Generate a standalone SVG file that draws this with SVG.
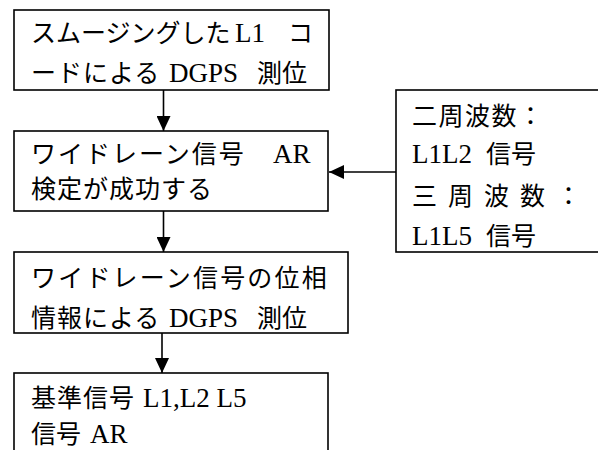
<svg xmlns="http://www.w3.org/2000/svg" width="598" height="450" viewBox="0 0 598 450">
<style>
.box{fill:#fff;stroke:#000;stroke-width:1.6}
.t{font-family:"Noto Sans CJK JP","Noto Sans",sans-serif;font-size:25px;fill:#000}
.l{font-family:"Liberation Serif","Noto Sans CJK JP",serif;font-size:27px}
.c{stroke:#000;stroke-width:1.6;fill:none}
</style>
<defs>
<marker id="ah" markerWidth="15" markerHeight="14" refX="15" refY="7" orient="auto" markerUnits="userSpaceOnUse"><path d="M0,0 L15,7 L0,14 z" fill="#000"/></marker>
</defs>
<rect width="598" height="450" fill="#fff"/>
<g id="connectors">
<line class="c" x1="163.5" y1="90" x2="163.5" y2="131" marker-end="url(#ah)"/>
<line class="c" x1="163.5" y1="211" x2="163.5" y2="252" marker-end="url(#ah)"/>
<line class="c" x1="162" y1="333" x2="162" y2="373" marker-end="url(#ah)"/>
<line class="c" x1="396" y1="172" x2="329" y2="172" marker-end="url(#ah)"/>
</g>
<g id="node1">
<rect class="box" x="14" y="10" width="315" height="80"/>
<text class="t" x="31" y="42">スムージングした<tspan class="l" x="235">L1 </tspan><tspan x="288">コ</tspan></text>
<text class="t" x="31" y="82"><tspan letter-spacing="1">ードによる </tspan><tspan class="l" x="169">DGPS </tspan><tspan x="257">測位</tspan></text>
</g>
<g id="node2">
<rect class="box" x="14" y="131" width="314" height="80"/>
<text class="t" x="31" y="163"><tspan letter-spacing="2">ワイドレーン信号 </tspan><tspan class="l" x="273">AR</tspan></text>
<text class="t" x="31" y="198" letter-spacing="1">検定が成功する</text>
</g>
<g id="node3">
<rect class="box" x="14" y="252" width="334" height="81"/>
<text class="t" x="31" y="287" letter-spacing="2.2">ワイドレーン信号の位相</text>
<text class="t" x="31" y="327"><tspan letter-spacing="1">情報による </tspan><tspan class="l" x="169">DGPS </tspan><tspan x="257">測位</tspan></text>
</g>
<g id="node4">
<rect class="box" x="14" y="373" width="314" height="100"/>
<text class="t" x="31" y="407"><tspan letter-spacing="1">基準信号 </tspan><tspan class="l" x="143">L1,L2 L5</tspan></text>
<text class="t" x="31" y="443">信号 <tspan class="l" x="90">AR</tspan></text>
</g>
<g id="node5">
<rect class="box" x="396" y="90" width="215" height="162"/>
<text class="t" x="412" y="125" letter-spacing="1.5">二周波数：</text>
<text class="t" x="412" y="163"><tspan class="l">L1L2 </tspan><tspan x="486">信号</tspan></text>
<text class="t" x="412 430 448 466 484 502 520 538 556" y="205">三 周 波 数 ：</text>
<text class="t" x="412" y="245"><tspan class="l">L1L5 </tspan><tspan x="486">信号</tspan></text>
</g>
</svg>
